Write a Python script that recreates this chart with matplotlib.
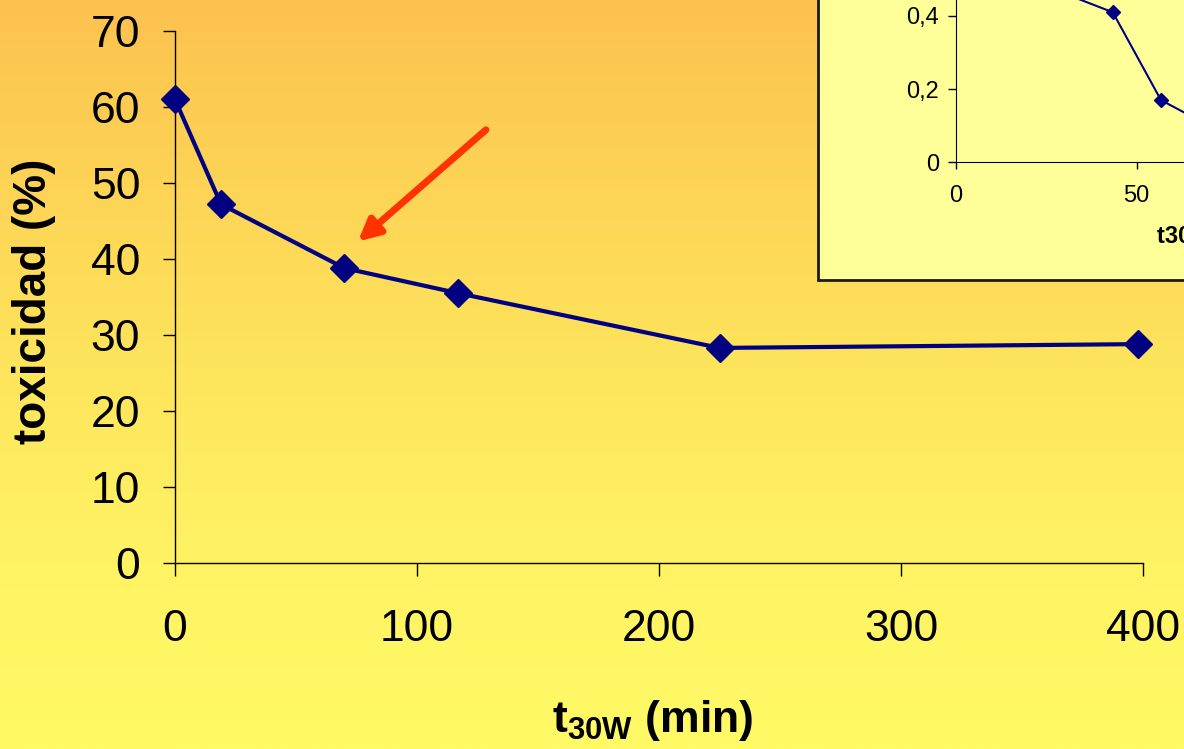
import numpy as np
import matplotlib
matplotlib.use("Agg")
import matplotlib.pyplot as plt
from matplotlib.patches import Rectangle
from matplotlib.colors import LinearSegmentedColormap
from matplotlib.ticker import FuncFormatter

plt.rcParams["font.family"] = ["Liberation Sans", "DejaVu Sans"]
plt.rcParams["mathtext.fontset"] = "custom"
plt.rcParams["mathtext.rm"] = "Liberation Sans:bold"
plt.rcParams["mathtext.bf"] = "Liberation Sans:bold"

# toxicity vs. irradiation time
t_min = [0, 19, 70, 117, 225, 398]
toxicidad = [61.0, 47.2, 38.8, 35.5, 28.3, 28.8]
x_ticks = [0, 100, 200, 300, 400]
y_ticks = [0, 10, 20, 30, 40, 50, 60, 70]

# small panel (top right)
ins_x = [20, 43.4, 56.7, 70, 100]
ins_y = [0.50, 0.41, 0.17, 0.10, 0.06]
ins_xticks = [0, 50, 100]
ins_yticks = [0, 0.2, 0.4, 0.6]

NAVY = "#000080"

W, H = 1184, 749
fig = plt.figure(figsize=(W / 100, H / 100), dpi=100)

# gradient background
bg = fig.add_axes([0, 0, 1, 1], zorder=-5)
grad = LinearSegmentedColormap.from_list(
    "bg", ["#FCC24E", "#FDD456", "#FEE55C", "#FFF364", "#FFFA66"])
bg.imshow(np.linspace(0, 1, 256).reshape(-1, 1), aspect="auto", cmap=grad,
          extent=[0, 1, 0, 1])
bg.axis("off")

ax = fig.add_axes([175 / W, 1 - 563 / H, (1143 - 175) / W, (563 - 31) / H])
ax.patch.set_alpha(0)
ax.plot(t_min, toxicidad, color=NAVY, lw=3, marker="D", ms=14,
        clip_on=False, zorder=3)
ax.set_xlim(0, 400)
ax.set_ylim(0, 70)
ax.set_xticks(x_ticks)
ax.set_yticks(y_ticks)
for s in ["top", "right"]:
    ax.spines[s].set_visible(False)
for s in ["left", "bottom"]:
    ax.spines[s].set_linewidth(1.0)
ax.tick_params(axis="y", direction="out", length=9, width=1, labelsize=32, pad=16)
ax.tick_params(axis="x", direction="out", length=9, width=1, labelsize=32, pad=24)

fig.text(34 / W, 1 - 301 / H, "toxicidad (%)", rotation=90, fontsize=33,
         fontweight="bold", ha="center", va="center")
fig.text(552 / W, 1 - 732 / H, r"$\mathbf{t_{30W}}$ (min)", fontsize=32,
         fontweight="bold", ha="left", va="baseline")

ax.annotate("", xy=(75.6, 42.3), xytext=(128.5, 57.0),
            arrowprops=dict(arrowstyle="-|>", lw=5, color="#FF3300",
                            mutation_scale=32, shrinkA=0, shrinkB=0))

# framed inset box
frame = Rectangle((818 / W, 1 - 280 / H), 1.0, 1.0, transform=fig.transFigure,
                  facecolor="#FFFF99", edgecolor="#1a1a1a", lw=2, zorder=1)
fig.add_artist(frame)

ins = fig.add_axes([955.7 / W, 1 - 162.3 / H, 362 / W, 219.5 / H], zorder=2)
ins.patch.set_alpha(0)
ins.plot(ins_x, ins_y, color=NAVY, lw=1.5, marker="D", ms=7)
ins.set_xlim(0, 100)
ins.set_ylim(0, 0.6)
ins.set_xticks(ins_xticks)
ins.set_yticks(ins_yticks)
ins.yaxis.set_major_formatter(
    FuncFormatter(lambda v, p: "0" if v == 0 else f"{v:.1f}".replace(".", ",")))
for s in ["top", "right"]:
    ins.spines[s].set_visible(False)
ins.tick_params(axis="y", direction="out", length=6, width=1, labelsize=17, pad=6)
ins.tick_params(axis="x", direction="out", length=5, width=1, labelsize=17, pad=11)
fig.text(1157 / W, 1 - 237 / H, "t30W (min)", fontsize=17,
         fontweight="bold", ha="left", va="center", zorder=3)

fig.savefig("out.png", dpi=100)
